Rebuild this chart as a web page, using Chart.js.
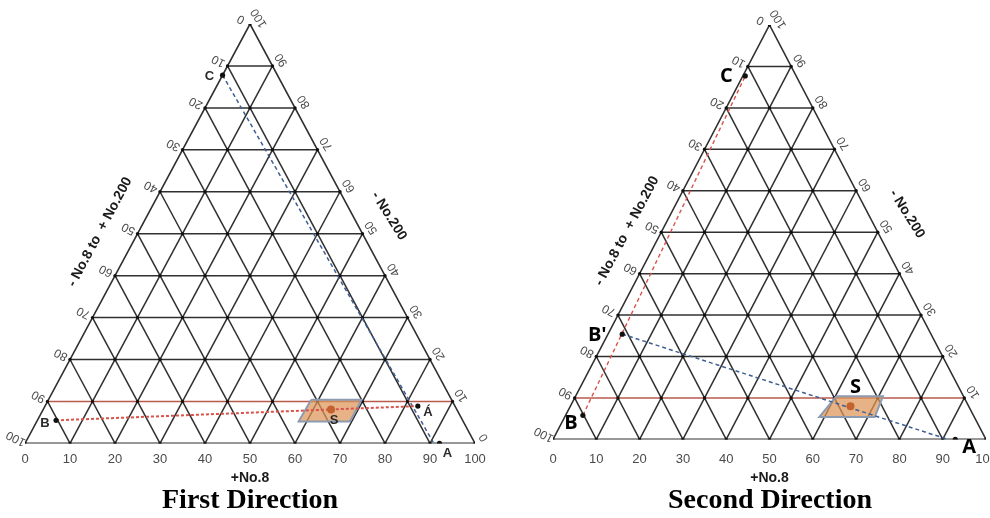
<!DOCTYPE html>
<html>
<head>
<meta charset="utf-8">
<script src="https://cdn.jsdelivr.net/npm/chart.js@4.4.1/dist/chart.umd.min.js"></script>
<style>
  body { margin: 0; background: #fff; }
  #wrap { position: relative; width: 990px; height: 518px; }
  canvas { position: absolute; top: 0; }
</style>
</head>
<body>
<div id="wrap">
  <canvas id="firstChart" width="495" height="518" style="left:0"></canvas>
  <canvas id="secondChart" width="495" height="518" style="left:495px"></canvas>
</div>
<script>
// grid of the ternary diagram, in percent
const gridSteps = [10, 20, 30, 40, 50, 60, 70, 80, 90];
const baseTicks = [0, 10, 20, 30, 40, 50, 60, 70, 80, 90, 100];   // +No.8, along the base
const leftTicks = [100, 90, 80, 70, 60, 50, 40, 30, 20, 10, 0];   // - No.8 to + No.200, base -> apex
const rightTicks = [0, 10, 20, 30, 40, 50, 60, 70, 80, 90, 100];  // - No.200, base -> apex

// First Direction: x = along base, h = height (0 base .. 100 apex)
const firstNames = ['A', 'Á', 'B', 'C', 'S'];
const firstX = [92.1, 87.3, 6.9, 43.9, 68.0];
const firstH = [0, 8.9, 5.5, 87.8, 8.1];
const firstRedX = [6.9, 87.3];
const firstRedH = [5.5, 8.9];
const firstBlueX = [43.9, 90.7];
const firstBlueH = [87.8, 0.3];
const firstZoneX = [63.6, 74.8, 72.2, 60.8];
const firstZoneH = [10.4, 10.4, 5.2, 5.2];

// Second Direction
const secondNames = ['A', 'B', "B'", 'C', 'S'];
const secondX = [92.9, 6.9, 16.0, 44.4, 68.7];
const secondH = [0, 5.8, 25.4, 87.7, 8.0];
const secondRedX = [6.9, 44.4];
const secondRedH = [5.8, 87.7];
const secondBlueX = [16.0, 91.2];
const secondBlueH = [25.4, 0];
const secondZoneX = [65.4, 76.2, 74.3, 61.5];
const secondZoneH = [10.4, 10.4, 5.4, 5.4];

const GRID = '#303030';
const ROW_RED = '#b85a4c';

function pts(xs, hs) {
  return xs.map((x, i) => ({ x: x, y: hs[i] }));
}

function seg(data, color, width, dash, order) {
  return {
    data: data, showLine: true, borderColor: color, borderWidth: width,
    borderDash: dash || [], pointRadius: 0, fill: false, order: order
  };
}

function gridDatasets() {
  let sets = [];
  sets.push(seg([{x:0,y:0},{x:100,y:0},{x:50,y:100},{x:0,y:0}], GRID, 1.6, null, 5));
  for (let s of gridSteps) {
    sets.push(seg([{x:s/2,y:s},{x:100-s/2,y:s}], s == 10 ? ROW_RED : GRID, 1.5, null, s == 10 ? 4 : 5));
    sets.push(seg([{x:s,y:0},{x:50+s/2,y:100-s}], GRID, 1.5, null, 5));
    sets.push(seg([{x:s,y:0},{x:s/2,y:s}], GRID, 1.5, null, 5));
  }
  // little dots on every node
  let nodes = [];
  baseTicks.forEach((h, j) => {
    for (let k = 0; k <= 10 - j; k++) nodes.push({ x: h/2 + baseTicks[k], y: h });
  });
  sets.push({ data: nodes, pointRadius: 1.7, pointBackgroundColor: '#111', pointBorderWidth: 0, order: 3 });
  return sets;
}

const ternaryText = {
  id: 'ternaryText',
  afterDatasetsDraw(chart, args, o) {
    const { ctx, scales: { x, y } } = chart;
    const px = (xv, h) => [x.getPixelForValue(xv), y.getPixelForValue(h)];
    const rotText = (t, cx, cy, ang) => {
      ctx.save(); ctx.translate(cx, cy); ctx.rotate(ang * Math.PI / 180);
      ctx.fillText(t, 0, 0); ctx.restore();
    };
    ctx.save();
    ctx.textAlign = 'center';
    ctx.textBaseline = 'middle';
    // base ticks
    ctx.fillStyle = '#4a4a4a';
    ctx.font = '13px Arial, "Liberation Sans", sans-serif';
    baseTicks.forEach(v => { const p = px(v, 0); ctx.fillText(String(v), p[0], p[1] + o.tickGap); });
    // side ticks
    ctx.font = '12px Arial, "Liberation Sans", sans-serif';
    leftTicks.forEach(v => { const h = 100 - v; const p = px(h/2, h); rotText(String(v), p[0] - 9, p[1] - 5, -152); });
    rightTicks.forEach(v => { const h = v; const p = px(100 - h/2, h); rotText(String(v), p[0] + 9, p[1] - 6, -122); });
    // axis titles
    ctx.fillStyle = '#1a1a1a';
    ctx.font = 'bold 14px Arial, "Liberation Sans", sans-serif';
    const mid = px(50, 0);
    ctx.fillText('+No.8', mid[0], mid[1] + o.axisGap);
    rotText('- No.8 to  + No.200', o.leftTitle[0], o.leftTitle[1], -62);
    rotText('- No.200', o.rightTitle[0], o.rightTitle[1], 58);
    // point labels
    ctx.font = o.labelFont;
    ctx.fillStyle = o.labelColor;
    o.names.forEach((n, i) => {
      const p = px(o.xs[i], o.hs[i]);
      ctx.fillText(n, p[0] + o.offsets[i][0], p[1] + o.offsets[i][1]);
    });
    ctx.restore();
  }
};

function buildChart(id, d) {
  const datasets = [
    { data: pts(d.xs, d.hs), pointRadius: d.xs.map((v, i) => d.names[i] == 'S' ? 4 : 2.6),
      pointBackgroundColor: d.xs.map((v, i) => d.names[i] == 'S' ? '#c4622f' : '#111'),
      pointBorderWidth: 0, order: 0 },
    seg(pts(d.redX, d.redH), '#d9534a', d.redWidth, d.redDash, 1),
    seg(pts(d.blueX, d.blueH), '#3f5f93', 1.5, [4, 3], 1),
    { data: pts(d.zoneX.concat(d.zoneX[0]), d.zoneH.concat(d.zoneH[0])), showLine: true,
      borderColor: '#8c9bb2', borderWidth: 2, backgroundColor: 'rgba(222,150,88,0.72)',
      fill: 'shape', pointRadius: 0, order: 2 }
  ].concat(gridDatasets());

  return new Chart(document.getElementById(id), {
    type: 'scatter',
    data: { datasets: datasets },
    options: {
      responsive: false,
      animation: false,
      devicePixelRatio: 1,
      layout: { padding: d.pad },
      scales: {
        x: { type: 'linear', min: 0, max: 100, display: false },
        y: { type: 'linear', min: 0, max: 100, display: false }
      },
      plugins: {
        legend: { display: false },
        tooltip: { enabled: false },
        title: {
          display: true, position: 'bottom', text: d.title, color: '#000',
          font: { family: '"Times New Roman", "Liberation Serif", serif', size: 28, weight: 'bold', lineHeight: 1.2 },
          padding: d.titlePad
        },
        ternaryText: {
          tickGap: d.tickGap, axisGap: d.axisGap, leftTitle: d.leftTitle, rightTitle: d.rightTitle,
          labelFont: d.labelFont, labelColor: d.labelColor, offsets: d.offsets,
          names: d.names, xs: d.xs, hs: d.hs
        }
      }
    },
    plugins: [ternaryText]
  });
}

buildChart('firstChart', {
  title: 'First Direction',
  names: firstNames, xs: firstX, hs: firstH,
  redX: firstRedX, redH: firstRedH, redDash: [3, 2], redWidth: 2,
  blueX: firstBlueX, blueH: firstBlueH,
  zoneX: firstZoneX, zoneH: firstZoneH,
  pad: { left: 25, right: 20, top: 24, bottom: 0 },
  titlePad: { top: 41, bottom: 0 },
  tickGap: 16, axisGap: 35,
  leftTitle: [100, 232], rightTitle: [389, 216],
  labelFont: 'bold 13px Arial, "Liberation Sans", sans-serif', labelColor: '#2a2a2a',
  offsets: [[8, 10], [10, 6], [-11, 3], [-13, 1], [3, 11]]
});

buildChart('secondChart', {
  title: 'Second Direction',
  names: secondNames, xs: secondX, hs: secondH,
  redX: secondRedX, redH: secondRedH, redDash: [4, 3], redWidth: 1.4,
  blueX: secondBlueX, blueH: secondBlueH,
  zoneX: secondZoneX, zoneH: secondZoneH,
  pad: { left: 58, right: 3, top: 25, bottom: 0 },
  titlePad: { top: 45, bottom: 0 },
  tickGap: 20, axisGap: 39,
  leftTitle: [132, 231], rightTitle: [412, 214],
  labelFont: 'bold 20px "Open Sans", Arial, sans-serif', labelColor: '#000',
  offsets: [[14, 8], [-12, 8], [-25, 1], [-19, 0], [5, -19]]
});
</script>
</body>
</html>
